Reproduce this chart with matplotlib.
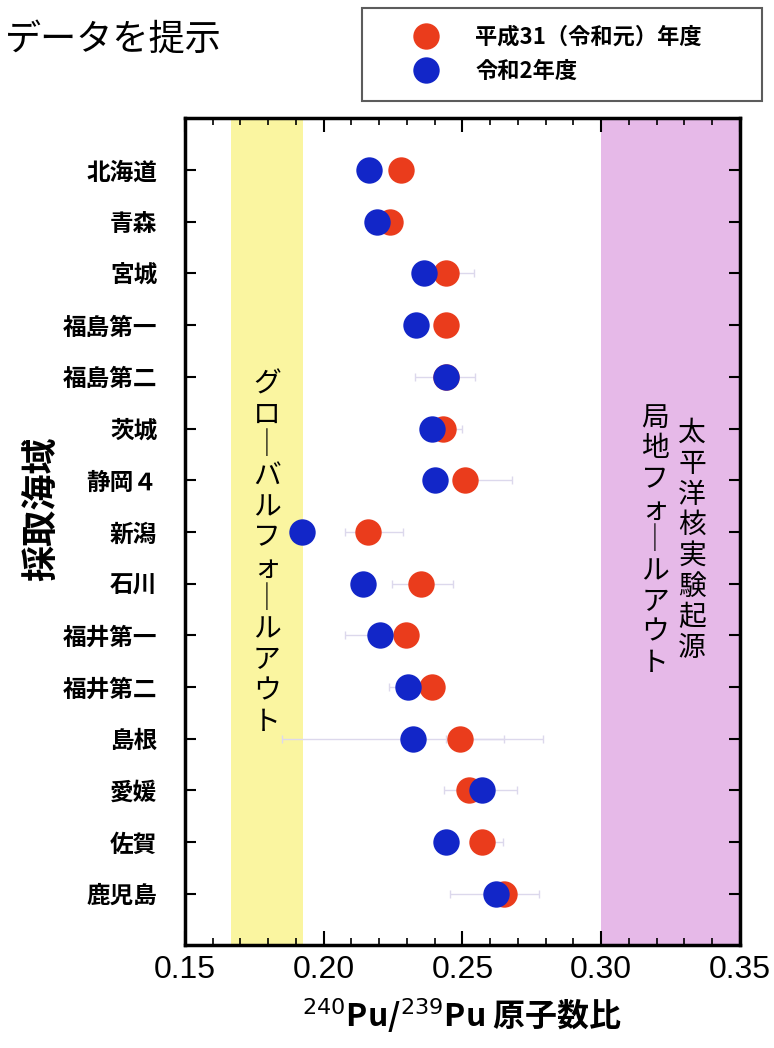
import numpy as np
import matplotlib
matplotlib.use("Agg")
import matplotlib.pyplot as plt

plt.rcParams['font.family'] = ['Noto Sans CJK JP', 'DejaVu Sans']

# ---------------------------------------------------------
# データ
# ---------------------------------------------------------
areas = ["北海道", "青森", "宮城", "福島第一", "福島第二", "茨城", "静岡４", "新潟",
         "石川", "福井第一", "福井第二", "島根", "愛媛", "佐賀", "鹿児島"]

# 平成31（令和元）年度
r1_vals = [0.228, 0.224, 0.244, 0.244, 0.244, 0.243, 0.251, 0.216,
           0.235, 0.2295, 0.239, 0.249, 0.2525, 0.257, 0.265]
r1_err_lo = [0.002, 0.002, 0.008, 0.004, 0.011, 0.008, 0.002, 0.0085,
             0.0105, 0.004, 0.003, 0.005, 0.009, 0.003, 0.003]
r1_err_hi = [0.002, 0.002, 0.010, 0.004, 0.0105, 0.007, 0.0167, 0.0125,
             0.0117, 0.004, 0.004, 0.016, 0.004, 0.0075, 0.0125]

# 令和2年度
r2_vals = [0.2163, 0.2193, 0.2363, 0.2331, 0.2439, 0.2391, 0.2400, 0.1923,
           0.2143, 0.2203, 0.2302, 0.2320, 0.2569, 0.2439, 0.2621]
r2_err_lo = [0.002, 0.002, 0.003, 0.003, 0.003, 0.003, 0.003, 0.002,
             0.003, 0.0128, 0.0067, 0.0472, 0.004, 0.0026, 0.0165]
r2_err_hi = [0.002, 0.002, 0.003, 0.003, 0.003, 0.003, 0.003, 0.002,
             0.003, 0.0112, 0.003, 0.0471, 0.0126, 0.003, 0.003]

global_band = (0.1666, 0.1925)
pacific_band = (0.30, 0.35)

RED = "#ea3c1c"
BLUE = "#1226c8"
ERR = "#dcd8ec"

# ---------------------------------------------------------
# 描画
# ---------------------------------------------------------
fig = plt.figure(figsize=(7.74, 10.48), dpi=100)
ax = fig.add_axes([0.239, 0.098, 0.717, 0.789])

ypos = np.arange(1, len(areas) + 1)

ax.axvspan(*global_band, color="#faf5a0", zorder=0, lw=0)
ax.axvspan(*pacific_band, color="#e6b9e8", zorder=0, lw=0)

ax.errorbar(r1_vals, ypos, xerr=[r1_err_lo, r1_err_hi], fmt="none",
            ecolor=ERR, elinewidth=1, capsize=3, zorder=1)
ax.errorbar(r2_vals, ypos, xerr=[r2_err_lo, r2_err_hi], fmt="none",
            ecolor=ERR, elinewidth=1, capsize=3, zorder=1)
ax.plot(r1_vals, ypos, "o", color=RED, ms=19, mec="none", zorder=2)
ax.plot(r2_vals, ypos, "o", color=BLUE, ms=19, mec="none", zorder=3)

ax.set_xlim(0.15, 0.35)
ax.set_ylim(len(areas) + 1, 0)
ax.set_xticks([0.15, 0.20, 0.25, 0.30, 0.35])
ax.set_xticks(np.arange(0.15, 0.351, 0.01), minor=True)
ax.set_xticklabels(["0.15", "0.20", "0.25", "0.30", "0.35"], fontsize=23,
                   family=["Liberation Sans", "DejaVu Sans"])
ax.set_yticks(ypos)
ax.set_yticklabels(areas, fontsize=17, fontweight="bold")
ax.tick_params(axis="x", which="major", direction="in", length=10, width=1.5,
               top=True, pad=7)
ax.tick_params(axis="x", which="minor", direction="in", length=5, width=1.2,
               top=True)
ax.tick_params(axis="y", direction="in", length=8, width=1.5, right=True, pad=20)
for s in ax.spines.values():
    s.set_linewidth(2.5)

ax.set_xlabel("$^{240}$Pu/$^{239}$Pu 原子数比", fontsize=23, fontweight="bold",
              labelpad=8)
fig.text(0.055, 0.515, "採取海域", rotation=90, fontsize=26, fontweight="bold",
         ha="center", va="center")

# 帯の中の縦書き
ax.text(0.1795, 4.85, "\n".join("グロ｜バルフォ｜ルアウト"), fontsize=20,
        ha="center", va="top", linespacing=1.03)
ax.text(0.3194, 5.5, "\n".join("局地フォ｜ルアウト"), fontsize=20,
        ha="center", va="top", linespacing=1.03)
ax.text(0.3327, 5.8, "\n".join("太平洋核実験起源"), fontsize=20,
        ha="center", va="top", linespacing=1.03)

# タイトル
fig.text(0.006, 0.962, "データを提示", fontsize=26, ha="left", va="center")

# 凡例
leg = fig.legend(handles=[
    plt.Line2D([], [], ls="none", marker="o", ms=19, color=RED, mec="none"),
    plt.Line2D([], [], ls="none", marker="o", ms=19, color=BLUE, mec="none")],
    labels=["平成31（令和元）年度", "令和2年度"],
    loc="upper left", bbox_to_anchor=(0.4677, 0.9924, 0.517, 0.0),
    mode="expand", frameon=True,
    fancybox=False, edgecolor="#333333", prop={"size": 16, "weight": "bold"},
    handletextpad=0.1, labelspacing=0.5, borderpad=0.8, borderaxespad=0,
    handlelength=4.2)
leg.get_frame().set_linewidth(1.5)

fig.savefig("out.png", dpi=100)
